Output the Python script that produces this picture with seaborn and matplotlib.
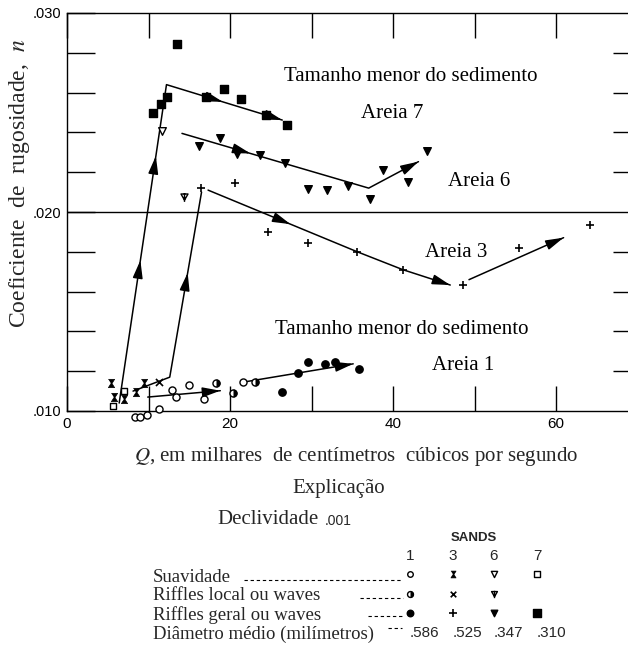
import numpy as np
import matplotlib
matplotlib.use("Agg")
import matplotlib.pyplot as plt
import seaborn as sns
from matplotlib.path import Path
from matplotlib.ticker import FixedLocator, FixedFormatter, NullFormatter

# ---------------- data ----------------
# Sand 1
s1_smooth_q = [8.3, 9.0, 9.8, 11.3, 12.9, 13.4, 15.0, 16.8, 21.6]
s1_smooth_n = [.00971, .00971, .00978, .01009, .01106, .01069, .01131, .01059, .01144]
s1_local_q = [18.3, 20.4, 23.1]
s1_local_n = [.01139, .01089, .01144]
s1_general_q = [26.4, 28.3, 29.5, 31.7, 32.9, 35.8]
s1_general_n = [.01094, .01189, .01245, .01235, .01245, .01210]
# Sand 3
s3_smooth_q = [5.4, 5.8, 7.0, 8.5, 9.4]
s3_smooth_n = [.01142, .01069, .01059, .01097, .01139]
s3_local_q = [11.3]
s3_local_n = [.01144]
s3_general_q = [16.4, 20.6, 24.7, 29.6, 35.6, 41.2, 48.6, 55.4, 64.2]
s3_general_n = [.02122, .02144, .01898, .01846, .01797, .01709, .01632, .01821, .01935]
# Sand 6
s6_smooth_q = [11.6]
s6_smooth_n = [.02407]
s6_local_q = [14.3]
s6_local_n = [.02077]
s6_general_q = [16.2, 18.8, 20.9, 23.7, 26.7, 29.6, 31.9, 34.4, 37.1, 38.8, 41.8, 44.1]
s6_general_n = [.02333, .02370, .02290, .02285, .02245, .02116, .02111, .02132, .02065, .02209, .02152, .02308]
# Sand 7
s7_smooth_q = [5.6, 7.0]
s7_smooth_n = [.01025, .01102]
s7_general_q = [10.5, 11.5, 12.3, 13.5, 17.0, 19.2, 21.4, 24.4, 27.0]
s7_general_n = [.02499, .02543, .02576, .02844, .02576, .02617, .02568, .02486, .02437]

# trend lines (hand-drawn curves of the original)
trend_s7_q = [6.4, 12.2, 26.4]
trend_s7_n = [.01040, .02640, .02462]
trend_s6_q = [14.1, 37.0, 43.1]
trend_s6_n = [.02395, .02120, .02253]
trend_s3a_q = [8.1, 12.6, 16.5]
trend_s3a_n = [.01100, .01170, .02100]
trend_s3b_q = [17.3, 35.6, 41.2, 47.0]
trend_s3b_n = [.02110, .01800, .01710, .01633]
trend_s3c_q = [49.3, 60.9]
trend_s3c_n = [.01660, .01871]
trend_s1a_q = [9.9, 18.8]
trend_s1a_n = [.01070, .01102]
trend_s1b_q = [21.6, 35.1]
trend_s1b_n = [.01145, .01237]

# arrowheads: (trend, Q position)
arrow_trend = ["s7", "s7", "s7", "s7", "s6", "s6", "s3a", "s3b", "s3b", "s3c", "s1a", "s1b"]
arrow_q = [9.0, 10.9, 19.1, 26.4, 22.5, 43.1, 14.8, 27.4, 47.0, 60.9, 18.8, 35.1]

x_ticks_major = [0, 20, 40, 60]
x_ticks_minor = [10, 30, 50]
y_ticks_major = [.010, .020, .030]
y_tick_labels = [".010", ".020", ".030"]
y_ticks_minor = [.012, .014, .016, .018, .022, .024, .026, .028]

legend_sands = ["1", "3", "6", "7"]
legend_diam = [".586", ".525", ".347", ".310"]
legend_rows = ["Suavidade", "Riffles local ou waves", "Riffles geral ou waves",
               "Diâmetro médio (milímetros)"]

annot_texts = ["Tamanho menor do sedimento", "Areia 7", "Areia 6", "Areia 3",
               "Tamanho menor do sedimento", "Areia 1"]

# ---------------- style ----------------
sns.set_style("ticks")
plt.rcParams["font.family"] = ["Liberation Serif", "DejaVu Serif"]
plt.rcParams["mathtext.fontset"] = "stix"
SANS = ["Liberation Sans", "DejaVu Sans"]

W, H = 628, 646
fig = plt.figure(figsize=(W / 100, H / 100), dpi=100)
fig.patch.set_facecolor("white")
ax = fig.add_axes([67 / W, 1 - 411 / H, (W - 67) / W, (411 - 13) / H])
ax.set_facecolor("white")
ax.set_xlim(0, 68.8)
ax.set_ylim(0.010, 0.030)

# custom glyphs
hourglass = [(-0.75, 1), (0.75, 1), (0.12, 0), (0.75, -1), (-0.75, -1), (-0.12, 0)]
stem_tri = Path([(-0.8, 0.8), (0.8, 0.8), (0, -0.6), (-0.8, 0.8), (0, 1.0), (0, -1.0)],
                [Path.MOVETO, Path.LINETO, Path.LINETO, Path.CLOSEPOLY, Path.MOVETO, Path.LINETO])
_t = np.linspace(-np.pi / 2, np.pi / 2, 25)
half_right = [(float(np.cos(a)), float(np.sin(a))) for a in _t]

K = "black"


def pts(axis, q, n, marker, face, s, lw=1.0, z=5):
    sns.scatterplot(x=q, y=n, ax=axis, marker=marker, color=face, edgecolor=K,
                    s=s, linewidth=lw, clip_on=False, zorder=z, legend=False)


def half_pts(axis, q, n, s, z=5):
    pts(axis, q, n, "o", "white", s, z=z)
    pts(axis, q, n, half_right, K, s, lw=0.6, z=z + 0.1)


# points
pts(ax, s1_smooth_q, s1_smooth_n, "o", "white", 26)
half_pts(ax, s1_local_q, s1_local_n, 26)
pts(ax, s1_general_q, s1_general_n, "o", K, 28)
pts(ax, s3_smooth_q, s3_smooth_n, hourglass, K, 36, lw=0.5)
sns.scatterplot(x=s3_local_q, y=s3_local_n, ax=ax, marker="x", color=K, s=26,
                linewidth=1.2, clip_on=False, zorder=5, legend=False)
sns.scatterplot(x=s3_general_q, y=s3_general_n, ax=ax, marker="+", color=K, s=40,
                linewidth=1.2, clip_on=False, zorder=5, legend=False)
pts(ax, s6_smooth_q, s6_smooth_n, "v", "white", 30)
pts(ax, s6_local_q, s6_local_n, stem_tri, "white", 40)
pts(ax, s6_general_q, s6_general_n, "v", K, 30)
pts(ax, s7_smooth_q, s7_smooth_n, "s", "white", 24)
pts(ax, s7_general_q, s7_general_n, "s", K, 30)

# trend lines
trends = {
    "s7": (trend_s7_q, trend_s7_n), "s6": (trend_s6_q, trend_s6_n),
    "s3a": (trend_s3a_q, trend_s3a_n), "s3b": (trend_s3b_q, trend_s3b_n),
    "s3c": (trend_s3c_q, trend_s3c_n), "s1a": (trend_s1a_q, trend_s1a_n),
    "s1b": (trend_s1b_q, trend_s1b_n),
}
for key, (q, n) in trends.items():
    sns.lineplot(x=q, y=n, ax=ax, sort=False, estimator=None, color=K, lw=1.1, zorder=4)

for key, qa in zip(arrow_trend, arrow_q):
    q, n = trends[key]
    na = float(np.interp(qa, q, n))
    i = int(np.clip(np.searchsorted(q, qa) - 1, 0, len(q) - 2))
    p0 = ax.transData.transform((q[i], n[i]))
    p1 = ax.transData.transform((q[i + 1], n[i + 1]))
    d = (p1 - p0) / np.hypot(*(p1 - p0))
    ax.annotate("", xy=(qa, na), xytext=(-14 * d[0], -14 * d[1]), textcoords="offset pixels",
                arrowprops=dict(arrowstyle="-|>,head_length=0.9,head_width=0.25", color=K,
                                lw=1.1, shrinkA=0, shrinkB=0, mutation_scale=12), zorder=6)

ax.axhline(0.020, color=K, lw=1.0, zorder=3)

# axes styling
for sp in ["left", "top", "bottom"]:
    ax.spines[sp].set_color(K)
    ax.spines[sp].set_linewidth(1.0)
ax.spines["right"].set_visible(False)
ax.xaxis.set_major_locator(FixedLocator(x_ticks_major))
ax.xaxis.set_minor_locator(FixedLocator(x_ticks_minor))
ax.xaxis.set_major_formatter(FixedFormatter([str(v) for v in x_ticks_major]))
ax.xaxis.set_minor_formatter(NullFormatter())
ax.yaxis.set_major_locator(FixedLocator(y_ticks_major))
ax.yaxis.set_minor_locator(FixedLocator(y_ticks_minor))
ax.yaxis.set_major_formatter(FixedFormatter(y_tick_labels))
ax.yaxis.set_minor_formatter(NullFormatter())
ax.tick_params(axis="x", which="both", direction="in", length=18, width=1.0, top=True,
               bottom=True, colors=K, pad=4)
ax.tick_params(axis="y", which="both", direction="in", length=20, width=1.0, left=True,
               right=False, colors=K, pad=4)
for lab in ax.get_xticklabels():
    lab.set_family(SANS)
    lab.set_fontsize(11)
for lab in ax.get_yticklabels():
    lab.set_family(SANS)
    lab.set_fontsize(10.5)
ax.set_xlabel("")
ax.set_ylabel("")

ax2 = ax.twinx()
ax2.set_ylim(ax.get_ylim())
for sp in ax2.spines.values():
    sp.set_visible(False)
ax2.yaxis.set_major_locator(FixedLocator(y_ticks_minor))
ax2.tick_params(axis="y", direction="in", length=11, width=1.0, right=True, left=False,
                labelright=False, colors=K)

# annotations inside the plot
annot_q = [42.2, 39.9, 50.6, 47.7, 41.0, 48.6]
annot_n = [.02683, .02497, .02151, .01794, .01412, .01231]
for t, q, n in zip(annot_texts, annot_q, annot_n):
    ax.text(q, n, t, ha="center", va="center", fontsize=15, color=K, zorder=7)

# ---------------- overlay in pixel coordinates ----------------
ov = fig.add_axes([0, 0, 1, 1], facecolor="none")
ov.set_xlim(0, W)
ov.set_ylim(H, 0)
ov.axis("off")

ov.text(20, 183, "Coeficiente  de  rugosidade,  $n$", rotation=90, ha="center", va="center",
        fontsize=17)
ov.text(356, 457, "$Q$, em milhares  de centímetros  cúbicos por segundo", ha="center",
        va="center", fontsize=15)
ov.text(339, 489, "Explicação", ha="center", va="center", fontsize=15)
ov.text(217, 519, "Declividade", ha="left", va="center", fontsize=15)
ov.text(325, 521, ".001", ha="left", va="center", fontsize=10, family=SANS)

col_x = [410, 453, 494, 537]
row_y = [574, 594, 613]
ov.text(474, 538, "SANDS", ha="center", va="center", fontsize=9.5, family=SANS,
        fontweight="bold")
for cx, s in zip(col_x, legend_sands):
    ov.text(cx, 556, s, ha="center", va="center", fontsize=11, family=SANS)
for cx, d in zip(col_x, legend_diam):
    ov.text(cx + 14, 633, d, ha="center", va="center", fontsize=11, family=SANS)

label_y = [577, 596, 615, 634]
for ty, lab in zip(label_y, legend_rows):
    ov.text(153, ty, lab, ha="left", va="center", fontsize=13.5)
leader_x0 = [244, 360, 368, 388]
leader_x1 = [402, 403, 403, 402]
leader_y = [580, 598, 616, 628]
for x0, x1, yy in zip(leader_x0, leader_x1, leader_y):
    sns.lineplot(x=[x0, x1], y=[yy, yy], ax=ov, color=K, lw=0.8, linestyle=(0, (3, 2.5)),
                 estimator=None, sort=False)

# legend glyphs
pts(ov, [col_x[0]], [row_y[0]], "o", "white", 16)
pts(ov, [col_x[1]], [row_y[0]], hourglass, K, 24, lw=0.5)
pts(ov, [col_x[2]], [row_y[0]], "v", "white", 20)
pts(ov, [col_x[3]], [row_y[0]], "s", "white", 16)
half_pts(ov, [col_x[0]], [row_y[1]], 18)
sns.scatterplot(x=[col_x[1]], y=[row_y[1]], ax=ov, marker="x", color=K, s=16,
                linewidth=1.2, legend=False)
pts(ov, [col_x[2]], [row_y[1]], stem_tri, "white", 28)
pts(ov, [col_x[0]], [row_y[2]], "o", K, 22)
sns.scatterplot(x=[col_x[1]], y=[row_y[2]], ax=ov, marker="+", color=K, s=26,
                linewidth=1.2, legend=False)
pts(ov, [col_x[2]], [row_y[2]], "v", K, 22)
pts(ov, [col_x[3]], [row_y[2]], "s", K, 26)
ov.set_xlim(0, W)
ov.set_ylim(H, 0)
ov.set_xlabel("")
ov.set_ylabel("")

fig.savefig("out.png", dpi=100, facecolor="white")
